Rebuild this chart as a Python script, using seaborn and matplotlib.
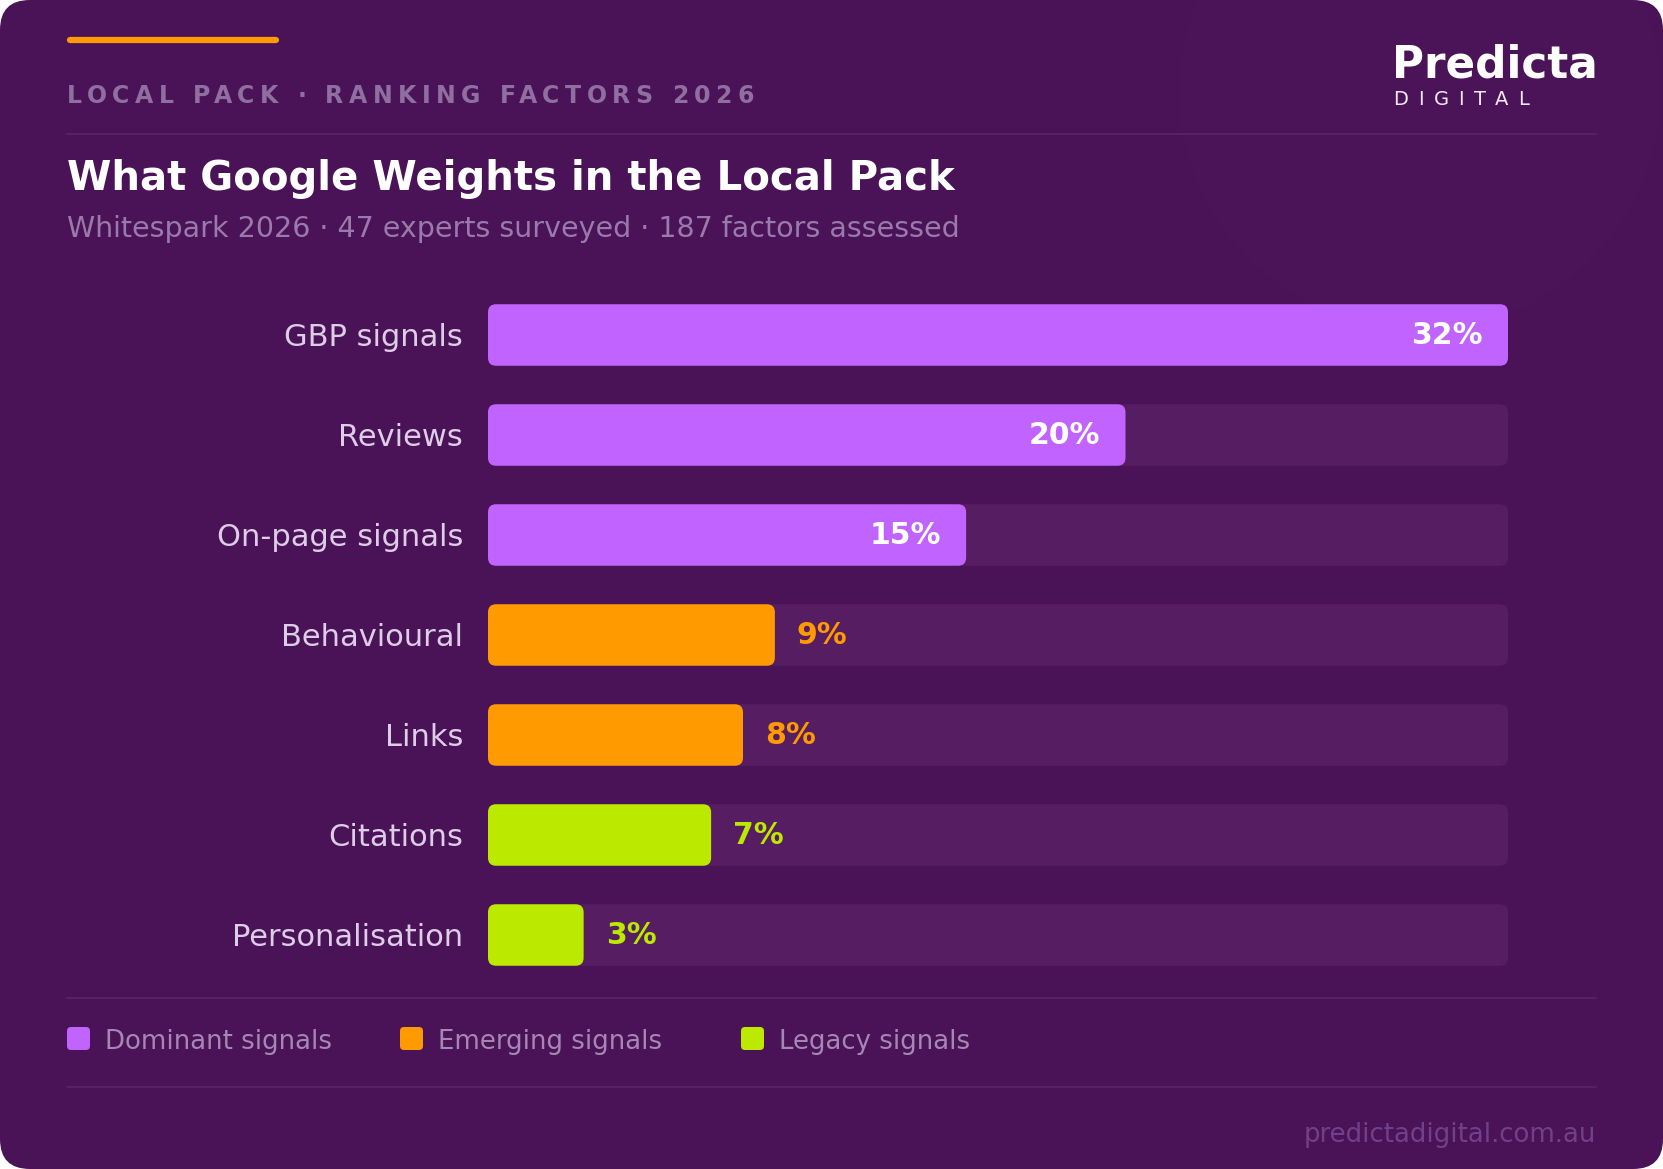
import matplotlib
matplotlib.use("Agg")
import matplotlib.pyplot as plt
from matplotlib.patches import FancyBboxPatch, Circle
from matplotlib.lines import Line2D
from matplotlib.font_manager import FontProperties
import pandas as pd
import seaborn as sns

# data
factors = ["GBP signals", "Reviews", "On-page signals", "Behavioural",
           "Links", "Citations", "Personalisation"]
weights = [32, 20, 15, 9, 8, 7, 3]
groups = ["Dominant signals"] * 3 + ["Emerging signals"] * 2 + ["Legacy signals"] * 2
legend_labels = ["Dominant signals", "Emerging signals", "Legacy signals"]

header = "LOCAL PACK · RANKING FACTORS 2026"
title = "What Google Weights in the Local Pack"
subtitle = "Whitespark 2026 · 47 experts surveyed · 187 factors assessed"
footer = "predictadigital.com.au"

BG = "#4a1257"
TRACK = "#561d63"
PALETTE = {"Dominant signals": "#c163ff",
           "Emerging signals": "#ff9a00",
           "Legacy signals": "#bbe900"}
LABEL = "#ddcde6"
HEAD = "#8f6ea0"
SUB = "#9a7aab"
LEG = "#a586b4"
FOOT = "#70418a"
DIV = "#5a2668"

W, H = 1663, 1169
sns.set_style("white")
plt.rcParams["font.family"] = ["DejaVu Sans"]

fig = plt.figure(figsize=(W / 100, H / 100), dpi=100)
fig.patch.set_facecolor("white")


def fx(x):
    return x / W


def fy(y):
    return 1 - y / H


card = FancyBboxPatch((0, 0), 1, 1, boxstyle="round,pad=0,rounding_size=0.018",
                      mutation_aspect=W / H, transform=fig.transFigure,
                      facecolor=BG, edgecolor="none", zorder=0)
fig.add_artist(card)
# faint glow top right
glow = Circle((14.2, (H - 90) / 100), 2.4, transform=fig.dpi_scale_trans,
              facecolor="white", alpha=0.012, edgecolor="none", zorder=0.5)
glow.set_clip_path(card)
fig.add_artist(glow)

# chart area
ax = fig.add_axes([fx(488), fy(985), 1020 / W, 700 / H])
ax.set_facecolor("none")

df = pd.DataFrame({"factor": factors, "weight": weights, "group": groups})
df["track"] = max(weights)

sns.barplot(data=df, x="track", y="factor", color=TRACK, width=0.615,
            saturation=1, errorbar=None, ax=ax)
sns.barplot(data=df, x="weight", y="factor", hue="group", palette=PALETTE,
            dodge=False, width=0.615, saturation=1, errorbar=None,
            legend=False, ax=ax)

xmax = max(weights)
ax.set_xlim(0, xmax)
ax.set_ylim(len(factors) - 0.5, -0.5)

px_x = 1020 / xmax   # pixels per x unit
px_y = 100           # pixels per y unit
rx = 8 / px_x
ma = (8 / px_y) / rx

for p in list(ax.patches):
    fb = FancyBboxPatch((p.get_x(), p.get_y()), p.get_width(), p.get_height(),
                        boxstyle=f"round,pad=0,rounding_size={rx}",
                        mutation_aspect=ma, facecolor=p.get_facecolor(),
                        edgecolor="none", zorder=p.get_zorder())
    p.remove()
    ax.add_patch(fb)

for i, (v, g) in enumerate(zip(weights, groups)):
    if g == legend_labels[0]:
        ax.text(v - 25 / px_x, i, f"{v}%", ha="right", va="center",
                color="white", fontsize=21.5, fontweight="bold")
    else:
        ax.text(v + 22 / px_x, i, f"{v}%", ha="left", va="center",
                color=PALETTE[g], fontsize=21.5, fontweight="bold")

for s in ax.spines.values():
    s.set_visible(False)
ax.set_xticks([])
ax.set_xlabel("")
ax.set_ylabel("")
ax.tick_params(axis="y", length=0, pad=18, labelsize=22, labelcolor=LABEL)

# header
renderer = fig.canvas.get_renderer()


def spaced_text(x, y, s, spacing, size, weight, color):
    prop = FontProperties(family="DejaVu Sans", size=size, weight=weight)

    def width(t):
        return renderer.get_text_width_height_descent(t, prop, ismath=False)[0]

    for i, ch in enumerate(s):
        if ch == " ":
            continue
        left = x + width(s[:i + 1]) - width(ch) + i * spacing
        fig.text(fx(left), fy(y), ch, fontproperties=prop, color=color,
                 ha="left", va="baseline")


fig.add_artist(Line2D([fx(70), fx(276)], [fy(40), fy(40)], transform=fig.transFigure,
                      color="#ff9a00", lw=4.5, solid_capstyle="round"))
spaced_text(67, 103, header, 5.45, 17, "bold", HEAD)

fig.text(fx(1392), fy(78), "Predicta", fontsize=31.5, fontweight="bold",
         color="white", ha="left", va="baseline")
spaced_text(1393, 105, "DIGITAL", 10, 14, "normal", "#f3e9f7")

for yy in (134, 998, 1087):
    fig.add_artist(Line2D([fx(67), fx(1596)], [fy(yy), fy(yy)],
                          transform=fig.transFigure, color=DIV, lw=1.2))

fig.text(fx(67), fy(190), title, fontsize=29, fontweight="bold",
         color="white", ha="left", va="baseline")
fig.text(fx(67), fy(237), subtitle, fontsize=20.5, color=SUB,
         ha="left", va="baseline")

# legend
for lab, x0 in zip(legend_labels, [67, 400, 741]):
    sq = FancyBboxPatch((fx(x0), fy(1050)), 23 / W, 23 / H,
                        boxstyle=f"round,pad=0,rounding_size={4 / W}",
                        mutation_aspect=W / H, transform=fig.transFigure,
                        facecolor=PALETTE[lab], edgecolor="none")
    fig.add_artist(sq)
    fig.text(fx(x0 + 38), fy(1049), lab, fontsize=18.7, color=LEG,
             ha="left", va="baseline")

fig.text(fx(1596), fy(1142), footer, fontsize=18.7, color=FOOT,
         ha="right", va="baseline")

fig.savefig("out.png", dpi=100, facecolor="white")
